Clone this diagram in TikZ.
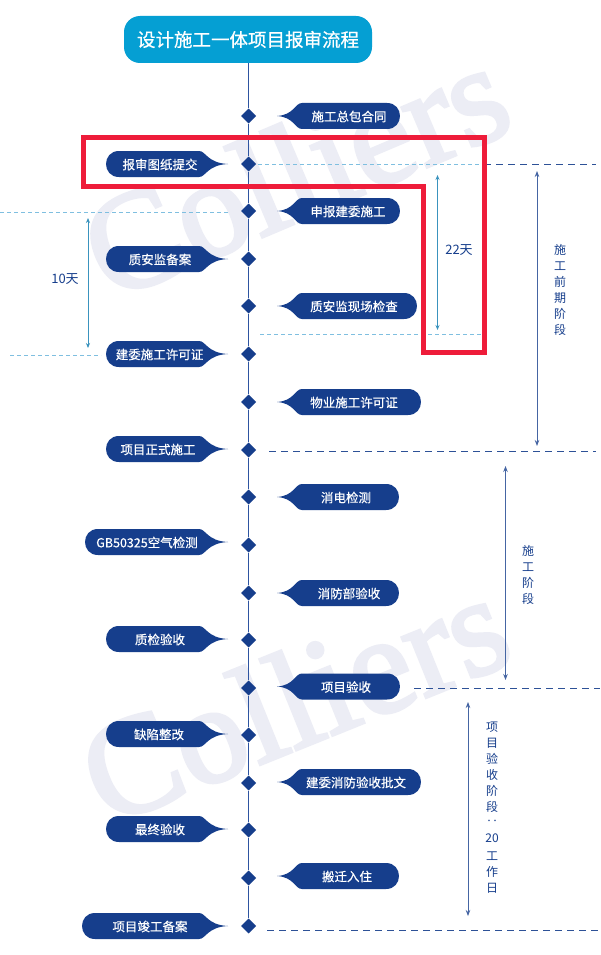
\documentclass[tikz,border=0pt]{standalone}
\usepackage{fontspec}
\setmainfont{Noto Sans CJK SC}
\newfontfamily\medfont[FakeBold=0.5]{Noto Sans CJK SC}
\newfontfamily\wmfont[FakeBold=2.5]{Liberation Serif}
\usetikzlibrary{shapes.geometric,arrows.meta}
\definecolor{navy}{HTML}{163E8C}
\definecolor{sky}{HTML}{059FD3}
\definecolor{lightdash}{HTML}{7FBFE0}
\definecolor{teal}{HTML}{3A93BE}
\definecolor{redbox}{HTML}{EE1C3A}
\definecolor{wm}{HTML}{ECEDF5}
\definecolor{axisblue}{HTML}{2E54A0}
\tikzset{
  pilltext/.style={text=white,font=\medfont\fontsize{12.5}{14}\selectfont,inner sep=0pt,minimum height=26pt},
  mark diamond/.style={diamond,fill=navy,minimum width=15pt,minimum height=15pt,inner sep=0pt},
  lightline/.style={draw=lightdash,line width=.7pt,dash pattern=on 4pt off 3pt},
  darkline/.style={draw=navy!90,line width=1pt,dash pattern=on 7pt off 5pt},
  tealarrow/.style={draw=teal,line width=.8pt,{Stealth[length=5pt,width=4pt]}-{Stealth[length=5pt,width=4pt]}},
  navyarrow/.style={draw=navy!80,line width=.8pt,{Stealth[length=6pt,width=4.5pt]}-{Stealth[length=6pt,width=4.5pt]}},
  labeltext/.style={text=navy,font=\fontsize{13}{14}\selectfont,inner sep=0pt},
  vtext/.style={text=navy,font=\fontsize{12}{14}\selectfont,inner sep=0pt},
  watermark/.style={text=wm,font=\wmfont\fontsize{140}{150}\selectfont,inner sep=0pt}
}
% name, left, y, text centre, text
\newcommand{\pillL}[5]{%
  \fill[navy] (#2+13,#3-13) -- (199,#3-13) .. controls (206,#3-13) and (207,#3-1) .. (228,#3) .. controls (207,#3+1) and (206,#3+13) .. (199,#3+13) -- (#2+13,#3+13) .. controls (#2-4.3,#3+13) and (#2-4.3,#3-13) .. (#2+13,#3-13) -- cycle;
  \node[pilltext] (#1) at (#4,#3+.5) {#5};}
% name, right, y, text centre, text
\newcommand{\pillR}[5]{%
  \fill[navy] (#2-13,#3-13) -- (302,#3-13) .. controls (295,#3-13) and (294,#3-1) .. (277,#3) .. controls (294,#3+1) and (295,#3+13) .. (302,#3+13) -- (#2-13,#3+13) .. controls (#2+4.3,#3+13) and (#2+4.3,#3-13) .. (#2-13,#3-13) -- cycle;
  \node[pilltext] (#1) at (#4,#3+.5) {#5};}
\begin{document}
\begin{tikzpicture}[x=1pt,y=-1pt]
\useasboundingbox[fill=white] (0,0) rectangle (600,955);
% watermark
\node[watermark,rotate=23] (wmA) at (295,171) {Colliers};
\node[watermark,rotate=22] (wmB) at (294,699) {Colliers};
% title
\node[fill=sky,rounded corners=16pt,text=white,minimum width=248pt,minimum height=47pt,inner sep=0pt,font=\medfont\fontsize{18.5}{20}\selectfont] (title) at (248,39.5) {设计施工一体项目报审流程};
% diamonds
\foreach \n/\y in {1/116,2/164,3/211,4/259,5/306,6/354,7/402,8/450,9/497,10/545,11/593,12/640,13/688,14/735,15/783,16/830,17/878,18/926}{
  \node[mark diamond] (d\n) at (248.6,\y) {};
}
\draw[axisblue,line width=1pt] (d1 |- title.south) -- (d1) -- (d2) -- (d3) -- (d4) -- (d5) -- (d6) -- (d7) -- (d8) -- (d9) -- (d10) -- (d11) -- (d12) -- (d13) -- (d14) -- (d15) -- (d16) -- (d17) -- (d18);
% pills
\pillR{p1}{400}{116}{349}{施工总包合同}
\pillL{p2}{106}{164}{160}{报审图纸提交}
\pillR{p3}{400}{211}{348}{申报建委施工}
\pillL{p4}{106}{259}{160}{质安监备案}
\pillR{p5}{417}{306}{354}{质安监现场检查}
\pillL{p6}{106}{354}{159.5}{建委施工许可证}
\pillR{p7}{421}{402}{354}{物业施工许可证}
\pillL{p8}{106}{449}{158}{项目正式施工}
\pillR{p9}{399}{497}{346}{消电检测}
\pillL{p10}{85}{542}{147}{GB50325空气检测}
\pillR{p11}{399}{593}{349}{消防部验收}
\pillL{p12}{106}{639}{160}{质检验收}
\pillR{p13}{400}{686.5}{346}{项目验收}
\pillL{p14}{106}{734}{159}{缺陷整改}
\pillR{p15}{421}{782}{356}{建委消防验收批文}
\pillL{p16}{106}{829}{160}{最终验收}
\pillR{p17}{399}{876}{347}{搬迁入住}
\pillL{p18}{82}{926}{150}{项目竣工备案}
% guide lines
\coordinate (a1) at (258,164); \coordinate (a2) at (484,164); \coordinate (a3) at (596,164);
\coordinate (b1) at (0,212.5); \coordinate (b2) at (228,212.5);
\coordinate (c1) at (10,355.5); \coordinate (c2) at (101,355.5);
\coordinate (e1) at (260,334); \coordinate (e2) at (483,334);
\coordinate (f1) at (269,451); \coordinate (f2) at (596,451);
\coordinate (g1) at (414,688); \coordinate (g2) at (600,688);
\coordinate (h1) at (267,930); \coordinate (h2) at (600,930);
\draw[lightline] (a1) -- (a2);
\draw[darkline] (a2) -- (a3);
\draw[lightline] (b1) -- (b2);
\draw[lightline] (c1) -- (c2);
\draw[lightline] (e1) -- (e2);
\draw[darkline] (f1) -- (f2);
\draw[darkline] (g1) -- (g2);
\draw[darkline] (h1) -- (h2);
% arrows
\coordinate (t1) at (88,218); \coordinate (t2) at (88,348);
\coordinate (t3) at (437.5,175); \coordinate (t4) at (437.5,330);
\coordinate (n1) at (537,171); \coordinate (n2) at (537,446);
\coordinate (n3) at (505.5,466); \coordinate (n4) at (505.5,680);
\coordinate (n5) at (468,702); \coordinate (n6) at (468,916);
\draw[tealarrow] (t1) -- (t2);
\draw[tealarrow] (t3) -- (t4);
\draw[navyarrow] (n1) -- (n2);
\draw[navyarrow] (n3) -- (n4);
\draw[navyarrow] (n5) -- (n6);
\node[labeltext] (l10) at (65,279) {10天};
\node[labeltext] (l22) at (459,250) {22天};
\foreach \i/\c/\y in {1/施/250,2/工/266,3/前/282,4/期/298,5/阶/314,6/段/330}{\node[vtext] (va\i) at (560,\y) {\c};}
\foreach \i/\c/\y in {1/施/551,2/工/567,3/阶/583,4/段/599}{\node[vtext] (vb\i) at (528,\y) {\c};}
\foreach \i/\c/\y in {1/项/727,2/目/743,3/验/759,4/收/775,5/阶/791,6/段/807,7/‥/823,8/20/838,9/工/856,10/作/872,11/日/888}{\node[vtext] (vc\i) at (492,\y) {\c};}
% red outline
\draw[redbox,line width=5pt,line join=miter] (83.5,137.5) -- (484.5,137.5) -- (484.5,352.5) -- (423.5,352.5) -- (423.5,186.5) -- (83.5,186.5) -- cycle;
\end{tikzpicture}
\end{document}
